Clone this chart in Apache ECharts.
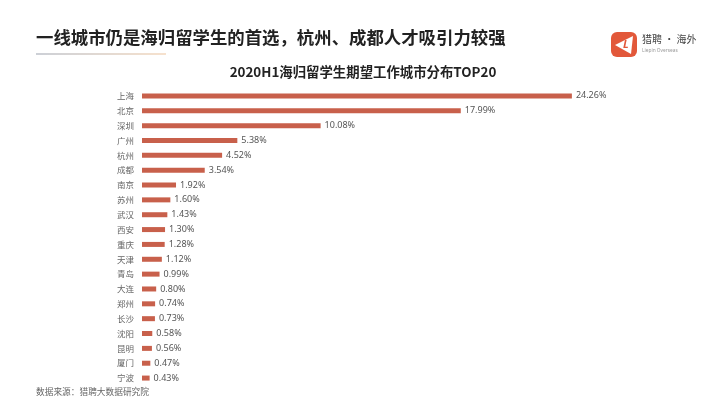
<!DOCTYPE html>
<html>
<head>
<meta charset="utf-8">
<style>
  html, body { margin: 0; padding: 0; background: #fff; }
  #chart { width: 728px; height: 413px; }
</style>
<script src="https://cdn.jsdelivr.net/npm/echarts@6/dist/echarts.min.js"></script>
</head>
<body>
<div id="chart"></div>
<script>
const cities = ['上海', '北京', '深圳', '广州', '杭州', '成都', '南京', '苏州', '武汉', '西安',
  '重庆', '天津', '青岛', '大连', '郑州', '长沙', '沈阳', '昆明', '厦门', '宁波']
const shares = [24.26, 17.99, 10.08, 5.38, 4.52, 3.54, 1.92, 1.60, 1.43, 1.30,
  1.28, 1.12, 0.99, 0.80, 0.74, 0.73, 0.58, 0.56, 0.47, 0.43]

const headline = '一线城市仍是海归留学生的首选，杭州、成都人才吸引力较强'
const chartTitle = '2020H1海归留学生期望工作城市分布TOP20'
const sourceNote = '数据来源：猎聘大数据研究院'

const cjk = '"Noto Sans CJK SC", "Noto Sans", sans-serif'
const chart = echarts.init(document.getElementById('chart'), null, { renderer: 'canvas' })

chart.setOption({
  animation: false,
  backgroundColor: '#fff',
  title: {
    text: chartTitle,
    left: 358,
    top: 60,
    textAlign: 'center',
    textStyle: { fontFamily: cjk, fontSize: 13.4, fontWeight: 'bold', color: '#222' }
  },
  grid: { left: 142, top: 88.5, width: 443, height: 297 },
  xAxis: { type: 'value', min: 0, max: 25, show: false },
  yAxis: {
    type: 'category',
    data: cities,
    inverse: true,
    axisLine: { show: false },
    axisTick: { show: false },
    axisLabel: { margin: 8, fontFamily: cjk, fontSize: 8.5, color: '#666' }
  },
  series: [{
    type: 'bar',
    data: shares,
    barWidth: 5,
    itemStyle: { color: '#c8604b' },
    label: {
      show: true,
      position: 'right',
      distance: 4,
      fontFamily: '"Noto Sans", sans-serif',
      fontSize: 9,
      color: '#555',
      formatter: p => p.value.toFixed(2) + '%'
    }
  }],
  graphic: [
    {
      type: 'text', left: 36, top: 29,
      style: { text: headline, font: 'bold 17.4px ' + cjk, fill: '#222' }
    },
    {
      type: 'rect', left: 36, top: 53.5,
      shape: { width: 130, height: 1 },
      style: {
        fill: new echarts.graphic.LinearGradient(0, 0, 1, 0, [
          { offset: 0, color: '#9aa1ae' },
          { offset: 1, color: '#eec49c' }
        ])
      }
    },
    {
      type: 'text', left: 36, top: 387,
      style: { text: sourceNote, font: '8.7px ' + cjk, fill: '#666' }
    },
    // logo
    {
      type: 'rect', left: 611, top: 32,
      shape: { width: 26, height: 25, r: 6 },
      style: { fill: '#e2583a' }
    },
    {
      type: 'polygon',
      shape: { points: [[615, 45], [633, 36], [631, 54]] },
      style: { fill: '#fff' }
    },
    {
      type: 'text', left: 623, top: 39,
      style: { text: 'L', font: 'italic bold 11px "Noto Sans", sans-serif', fill: '#e2583a' }
    },
    {
      type: 'text', left: 642, top: 34,
      style: { text: '猎聘 · 海外', font: '10px ' + cjk, fill: '#444' }
    },
    {
      type: 'text', left: 642, top: 48,
      style: { text: 'Liepin Overseas', font: '4.8px "Noto Sans", sans-serif', fill: '#999' }
    }
  ]
})
</script>
</body>
</html>
